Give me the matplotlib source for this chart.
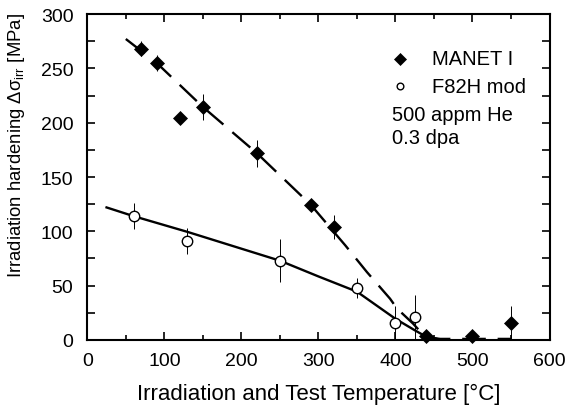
import matplotlib
matplotlib.use("Agg")
import matplotlib.pyplot as plt
from matplotlib.ticker import MultipleLocator

plt.rcParams['font.family'] = ['Liberation Sans', 'DejaVu Sans']
plt.rcParams['mathtext.fontset'] = 'custom'
plt.rcParams['mathtext.rm'] = 'Liberation Sans'
plt.rcParams['mathtext.it'] = 'Liberation Sans:italic'

# MANET I (filled diamonds)
manet_T = [70, 90, 120, 150, 220, 290, 320, 440, 500, 550]
manet_dS = [268, 255, 204, 214, 172, 124, 104, 4, 4, 16]
manet_err = [7, 7.5, 0, 12, 12.5, 0, 11, 0, 0, 15]

# F82H mod (open circles)
f82h_T = [60, 130, 250, 350, 400, 425]
f82h_dS = [114, 91, 73, 48, 16, 21]
f82h_err = [12, 12, 20, 9, 15.5, 20]

# trend curves
manet_fit_T = [50, 90, 150, 220, 290, 335, 363, 393, 402, 423, 437, 455, 550]
manet_fit_dS = [277, 255, 214.5, 172, 124.5, 87, 62.5, 38, 29, 15, 4, 1, 1]
f82h_fit_T = [25, 60, 130, 250, 300, 350, 375, 400, 425, 440, 460]
f82h_fit_dS = [122, 114, 99.5, 73, 58.5, 44.5, 32, 19.5, 9, 3, 0.5]

xticks = [0, 100, 200, 300, 400, 500, 600]
yticks = [0, 50, 100, 150, 200, 250, 300]

fig = plt.figure(figsize=(5.65, 4.10), dpi=100)
ax = fig.add_axes([0.1545, 0.1683, 0.8181, 0.7951])

lw = 1.7
ax.plot(manet_fit_T, manet_fit_dS, color='black', lw=lw,
        dashes=(17 / lw, 8.5 / lw), zorder=2)
ax.plot(f82h_fit_T, f82h_fit_dS, color='black', lw=lw, zorder=2)

ax.errorbar(manet_T, manet_dS, yerr=manet_err, fmt='none', ecolor='black',
            elinewidth=0.7, capsize=0, zorder=3)
ax.errorbar(f82h_T, f82h_dS, yerr=f82h_err, fmt='none', ecolor='black',
            elinewidth=0.7, capsize=0, zorder=3)
ax.plot(manet_T, manet_dS, 'D', color='black', ms=6.8, mew=0.5, zorder=4,
        clip_on=False)
ax.plot(f82h_T, f82h_dS, 'o', mfc='white', mec='black', ms=7.5, mew=1.0,
        zorder=4, clip_on=False)

# legend / annotation
ax.plot([0.6766], [0.862], 'D', color='black', ms=5.8, mew=0.5,
        transform=ax.transAxes)
ax.plot([0.6766], [0.779], 'o', mfc='white', mec='black', ms=4.8, mew=1.0,
        transform=ax.transAxes)
tfs = 14.5
ax.text(0.7465, 0.862, 'MANET I', transform=ax.transAxes, va='center',
        ha='left', fontsize=tfs)
ax.text(0.7465, 0.779, 'F82H mod', transform=ax.transAxes, va='center',
        ha='left', fontsize=tfs)
ax.text(0.6586, 0.693, '500 appm He', transform=ax.transAxes, va='center',
        ha='left', fontsize=tfs)
ax.text(0.6586, 0.620, '0.3 dpa', transform=ax.transAxes, va='center',
        ha='left', fontsize=tfs)

ax.set_xlim(0, 600)
ax.set_ylim(0, 300)
ax.set_xticks(xticks)
ax.set_yticks(yticks)
ax.xaxis.set_minor_locator(MultipleLocator(50))
ax.yaxis.set_minor_locator(MultipleLocator(25))
ax.tick_params(which='both', direction='in', top=True, right=True,
               width=1.2, labelsize=14)
ax.tick_params(axis='x', which='major', length=6, pad=8.5)
ax.tick_params(axis='x', which='minor', length=3.5)
ax.tick_params(axis='y', which='both', length=6, pad=10)
for s in ax.spines.values():
    s.set_linewidth(1.5)

ax.set_xlabel('Irradiation and Test Temperature [°C]', fontsize=16)
ax.xaxis.set_label_coords(0.5, -0.13)
ax.set_ylabel(r'Irradiation hardening Δσ$_{\mathrm{irr}}$ [MPa]', fontsize=13.3)
ax.yaxis.set_label_coords(-0.13, 0.601)

fig.savefig('out.png', dpi=100)
